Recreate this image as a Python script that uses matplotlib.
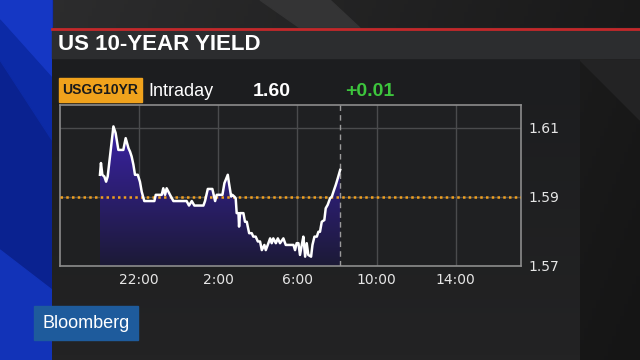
import numpy as np
import matplotlib
matplotlib.use('Agg')
from matplotlib import pyplot as plt
from matplotlib.colors import LinearSegmentedColormap
from matplotlib.patches import Polygon, Rectangle

# hours after 18:00 of the previous day
hours = [2.02, 2.07, 2.14, 2.24, 2.33, 2.41, 2.70, 2.81, 2.95, 3.20,
         3.32, 3.46, 3.54, 3.62, 3.71, 3.79, 3.93, 4.04, 4.13, 4.26,
         4.77, 4.84, 5.14, 5.22, 5.31, 5.39, 5.56, 5.73, 6.40, 6.52,
         6.66, 6.79, 7.25, 7.33, 7.47, 7.70, 7.84, 7.92,
         8.09, 8.21, 8.31, 8.48, 8.54, 8.65, 8.71, 8.81, 8.88, 8.93,
         9.02, 9.05, 9.10, 9.27, 9.35, 9.44, 9.49, 9.56, 9.69, 9.77,
         9.89, 10.00, 10.11, 10.20, 10.33, 10.40, 10.50, 10.62, 10.70, 10.78,
         10.91, 11.01, 11.12, 11.29, 11.41, 11.80, 11.88, 11.96, 12.05, 12.13,
         12.22, 12.30, 12.39, 12.47, 12.55, 12.69, 12.76, 12.86, 12.98, 13.06,
         13.14, 13.23, 13.36, 13.43, 13.53, 13.65, 13.74, 13.82, 13.94, 14.04,
         14.16]
yields = [1.5964, 1.5998, 1.5964, 1.5959, 1.5944, 1.5959, 1.6104, 1.6085, 1.6036, 1.6036,
          1.6070, 1.6041, 1.6031, 1.6017, 1.5993, 1.5964, 1.5964, 1.5944, 1.5915, 1.5888,
          1.5888, 1.5906, 1.5906, 1.5925, 1.5906, 1.5925, 1.5906, 1.5888, 1.5888, 1.5875,
          1.5888, 1.5875, 1.5875, 1.5888, 1.5923, 1.5923, 1.5888, 1.5906,
          1.5906, 1.5906, 1.5940, 1.5964, 1.5940, 1.5901, 1.5906, 1.5901, 1.5896, 1.5853,
          1.5853, 1.5814, 1.5853, 1.5853, 1.5828, 1.5828, 1.5814, 1.5795, 1.5795, 1.5785,
          1.5785, 1.5771, 1.5771, 1.5746, 1.5761, 1.5746, 1.5761, 1.5780, 1.5766, 1.5780,
          1.5766, 1.5780, 1.5766, 1.5780, 1.5761, 1.5761, 1.5746, 1.5766, 1.5766, 1.5732,
          1.5761, 1.5785, 1.5727, 1.5766, 1.5732, 1.5727, 1.5761, 1.5785, 1.5785, 1.5799,
          1.5799, 1.5828, 1.5833, 1.5867, 1.5877, 1.5896, 1.5901, 1.5915, 1.5935, 1.5954,
          1.5978]

prev_close = 1.59
last_yield = '1.60'
net_change = '+0.01'
x_ticks = [4, 8, 12, 16, 20]
x_labels = ['22:00', '2:00', '6:00', '10:00', '14:00']
y_ticks = [1.57, 1.59, 1.61]
y_labels = ['1.57', '1.59', '1.61']
ticker = 'USGG10YR'
title = 'US 10-YEAR YIELD'

SANS = ['Liberation Sans', 'DejaVu Sans']


def draw_background(fig):
    bg = fig.add_axes([0, 0, 1, 1], zorder=-5)
    bg.set_xlim(0, 640)
    bg.set_ylim(360, 0)
    bg.axis('off')

    # diagonal dark gray backdrop
    yy, xx = np.mgrid[0:360:4, 0:640:4]
    shade = np.clip(1 - (xx + 0.4 * yy) / 900, 0, 1)
    cmap = LinearSegmentedColormap.from_list('bg', ['#151515', '#2e2e2f'])
    bg.imshow(shade, cmap=cmap, extent=[0, 640, 360, 0], aspect='auto', zorder=0)
    bg.add_patch(Polygon([(260, 0), (330, 0), (360, 28), (300, 28)], color='#343435', zorder=1))
    bg.add_patch(Polygon([(580, 60), (640, 120), (640, 60)], color='#232324', zorder=1))

    # blue strip on the left
    bg.add_patch(Rectangle((0, 0), 52, 360, color='#0a2290', zorder=2))
    bg.add_patch(Polygon([(0, 0), (52, 0), (52, 78), (0, 20)], color='#1537c4', zorder=2))
    bg.add_patch(Polygon([(0, 20), (52, 78), (52, 140), (0, 60)], color='#0c2aa6', zorder=2))
    bg.add_patch(Polygon([(0, 250), (52, 290), (52, 360), (0, 360)], color='#1233b8', zorder=2))

    # chart panel, slightly fading towards the bottom
    panel = np.linspace(0, 1, 64).reshape(-1, 1)
    pcmap = LinearSegmentedColormap.from_list('panel', ['#1c1d1f', '#232324'])
    bg.imshow(panel, cmap=pcmap, extent=[52, 580, 360, 58], aspect='auto', zorder=3)
    bg.set_xlim(0, 640)
    bg.set_ylim(360, 0)

    # title bar
    bg.add_patch(Rectangle((52, 28), 588, 30, color='#2c2d2f', zorder=4))
    bg.plot([52, 640], [28.5, 28.5], color='#c4282a', lw=2, zorder=5)
    bg.text(58, 44, title, color='white', fontsize=16, fontweight='bold',
            family=SANS, va='center', ha='left', zorder=6)

    # ticker row
    bg.add_patch(Rectangle((59, 78), 83, 24, color='#f0a21c', zorder=4))
    bg.text(100.5, 90.5, ticker, color='#1a1a1a', fontsize=10, fontweight='bold',
            family=SANS, va='center', ha='center', zorder=6)
    bg.text(148, 91, 'Intraday', color='white', fontsize=13, family=SANS,
            va='center', ha='left', zorder=6)
    bg.text(253, 91, last_yield, color='white', fontsize=14, fontweight='bold',
            family=SANS, va='center', ha='left', zorder=6)
    bg.text(345, 91, net_change, color='#3dc63d', fontsize=14, fontweight='bold',
            family=SANS, va='center', ha='left', zorder=6)

    # logo
    bg.add_patch(Rectangle((34, 306), 104, 34, color='#1e5b9c', zorder=4))
    bg.text(86, 323, 'Bloomberg', color='white', fontsize=13, family=SANS,
            va='center', ha='center', zorder=6)


def main():
    fig = plt.figure(figsize=(6.4, 3.6), dpi=100, facecolor='#222223')
    draw_background(fig)

    ax = fig.add_axes([60 / 640, 1 - 266 / 360, 461 / 640, 161 / 360])
    ax.set_facecolor('#1f2022')

    ax.set_xticks(x_ticks)
    ax.set_xticklabels(x_labels)
    ax.set_yticks(y_ticks)
    ax.set_yticklabels(y_labels)
    ax.yaxis.tick_right()
    ax.tick_params(length=0, labelcolor='#e6e6e6', labelsize=10, pad=5)
    ax.grid(True, color='#4a4b4d', lw=1)
    ax.set_axisbelow(True)
    for s in ax.spines.values():
        s.set_color('#8c8c8c')
        s.set_linewidth(1.2)

    # gradient fill under the line
    verts = list(zip(hours, yields)) + [(hours[-1], 1.57), (hours[0], 1.57)]
    clip = Polygon(verts, closed=True, facecolor='none', edgecolor='none')
    ax.add_patch(clip)
    grad = np.linspace(0, 1, 256).reshape(-1, 1)
    fill_cmap = LinearSegmentedColormap.from_list('fill', ['#1c1a36', '#3a22a6'])
    im = ax.imshow(grad, cmap=fill_cmap, origin='lower', aspect='auto',
                   extent=[hours[0], hours[-1], 1.57, max(yields)], zorder=2)
    im.set_clip_path(clip)

    ax.axhline(prev_close, color='#f0a020', lw=1.8, ls=(0, (1.0, 1.3)), zorder=3)
    ax.axvline(hours[-1], color='#9a9a9a', lw=1, ls=(0, (4, 3)), zorder=3)
    ax.plot(hours, yields, color='white', lw=1.8, zorder=4)

    ax.set_xlim(0, 23.3)
    ax.set_ylim(1.57, 1.6166)

    fig.savefig('out.png', dpi=100, facecolor=fig.get_facecolor())


if __name__ == "__main__":
    main()
